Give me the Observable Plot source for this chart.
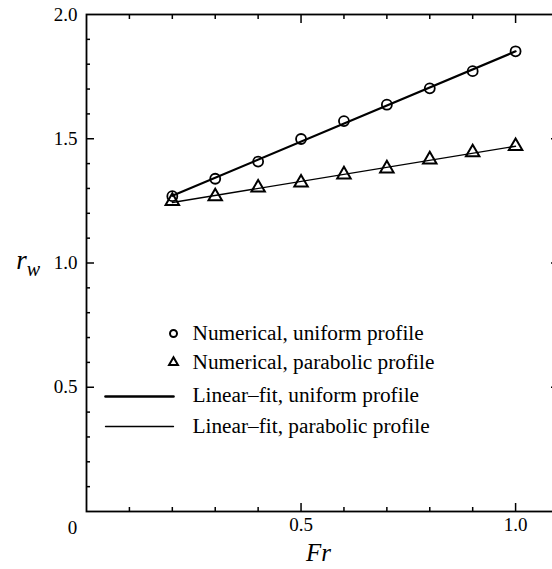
<!DOCTYPE html>
<html><head><meta charset="utf-8">
<script src="https://cdn.jsdelivr.net/npm/d3@7"></script>
<script src="https://cdn.jsdelivr.net/npm/@observablehq/plot@0.6"></script>
<style>html,body{margin:0;padding:0;background:#fff;overflow:hidden}
svg text{font-family:"Liberation Serif","Times New Roman",serif !important;}</style>
</head><body><div id="chart"></div>
<script>
// Data
const fr = [0.2, 0.3, 0.4, 0.5, 0.6, 0.7, 0.8, 0.9, 1.0];
const uniform = [1.269, 1.339, 1.408, 1.499, 1.571, 1.637, 1.703, 1.772, 1.852];
const parabolic = [1.249, 1.268, 1.303, 1.323, 1.356, 1.380, 1.416, 1.445, 1.470];

const xMajorTicks = [0.5, 1.0];
const xMinorTicks = [0.1, 0.2, 0.3, 0.4, 0.6, 0.7, 0.8, 0.9];
const yMajorTicks = [0.5, 1.0, 1.5];
const yMinorTicks = [0.1, 0.2, 0.3, 0.4, 0.6, 0.7, 0.8, 0.9, 1.1, 1.2, 1.3, 1.4, 1.6, 1.7, 1.8, 1.9];
const xTickLabels = [0.5, 1.0];
const yTickLabels = [0.5, 1.0, 1.5, 2.0];
const originLabel = ["0"];
const legendLabels = [
  "Numerical, uniform profile",
  "Numerical, parabolic profile",
  "Linear\u2013fit, uniform profile",
  "Linear\u2013fit, parabolic profile"
];

const uniformData = fr.map((x, i) => ({fr: x, rw: uniform[i]}));
const parabolicData = fr.map((x, i) => ({fr: x, rw: parabolic[i]}));

const FONT = '"Liberation Serif", "Times New Roman", serif';
const lineShape = {draw(ctx, l) { ctx.moveTo(0, 0); ctx.lineTo(0, -l); }};
const noText = () => "";

const tickAxes = [];
for (const anchor of ["bottom", "top"]) {
  tickAxes.push(Plot.axisX({anchor, ticks: xMinorTicks, tickSize: -4, tickFormat: noText, strokeWidth: 1.5, label: null}));
  tickAxes.push(Plot.axisX({anchor, ticks: xMajorTicks, tickSize: -8, tickFormat: noText, strokeWidth: 1.5, label: null}));
}
for (const anchor of ["left", "right"]) {
  tickAxes.push(Plot.axisY({anchor, ticks: yMinorTicks, tickSize: -4, tickFormat: noText, strokeWidth: 1.5, label: null}));
  tickAxes.push(Plot.axisY({anchor, ticks: yMajorTicks, tickSize: -8, tickFormat: noText, strokeWidth: 1.5, label: null}));
}

const legendRowsDy = [319, 348, 381, 412];
const legendTexts = legendLabels.map((lab, i) =>
  Plot.text([lab], {frameAnchor: "top-left", text: d => d, dx: 106, dy: legendRowsDy[i], textAnchor: "start", lineAnchor: "middle", fontSize: 21.3, fontFamily: FONT})
);

const chart = Plot.plot({
  width: 552,
  height: 569,
  marginLeft: 86,
  marginRight: -6,
  marginTop: 14,
  marginBottom: 58,
  style: {fontFamily: FONT, color: "black", background: "white", overflow: "hidden"},
  x: {domain: [0, 1.1], label: null},
  y: {domain: [0, 2], label: null},
  marks: [
    ...tickAxes,
    Plot.axisY({anchor: "left", ticks: yTickLabels, tickSize: 0, tickPadding: 9, tickFormat: d => d.toFixed(1), fontSize: 19, fontFamily: FONT, label: null}),
    Plot.axisX({anchor: "bottom", ticks: xTickLabels, tickSize: 0, tickPadding: 6, tickFormat: d => d.toFixed(1), fontSize: 19, fontFamily: FONT, label: null}),
    Plot.text(originLabel, {frameAnchor: "bottom-left", text: d => d, dx: -14, dy: 16, textAnchor: "middle", lineAnchor: "middle", fontSize: 19, fontFamily: FONT}),
    Plot.frame({stroke: "black", strokeWidth: 1.8}),
    // data
    Plot.linearRegressionY(uniformData, {x: "fr", y: "rw", ci: 0, stroke: "black", strokeWidth: 2.2}),
    Plot.linearRegressionY(parabolicData, {x: "fr", y: "rw", ci: 0, stroke: "black", strokeWidth: 1.3}),
    Plot.dot(uniformData, {x: "fr", y: "rw", r: 5, symbol: "circle", stroke: "black", strokeWidth: 1.8, fill: "none"}),
    Plot.dot(parabolicData, {x: "fr", y: "rw", r: 5, symbol: "triangle", stroke: "black", strokeWidth: 2, fill: "none"}),
    // axis titles
    Plot.text(["r"], {frameAnchor: "left", text: d => d, dx: -65, dy: -3, textAnchor: "middle", lineAnchor: "middle", fontSize: 27, fontStyle: "italic", fontFamily: FONT}),
    Plot.text(["w"], {frameAnchor: "left", text: d => d, dx: -53, dy: 7, textAnchor: "middle", lineAnchor: "middle", fontSize: 20, fontStyle: "italic", fontFamily: FONT}),
    Plot.text(["Fr"], {frameAnchor: "bottom", text: d => d, dx: -4, dy: 41, textAnchor: "middle", lineAnchor: "middle", fontSize: 25, fontStyle: "italic", fontFamily: FONT}),
    // legend
    Plot.dot([0], {frameAnchor: "top-left", dx: 87, dy: 319, r: 3.5, symbol: "circle", stroke: "black", strokeWidth: 2, fill: "none"}),
    Plot.dot([0], {frameAnchor: "top-left", dx: 87, dy: 348, r: 3.3, symbol: "triangle", stroke: "black", strokeWidth: 2, fill: "none"}),
    Plot.vector([0], {frameAnchor: "top-left", dx: 19, dy: 382, length: 68, rotate: 90, anchor: "start", shape: lineShape, stroke: "black", strokeWidth: 2.6}),
    Plot.vector([0], {frameAnchor: "top-left", dx: 19, dy: 412, length: 68, rotate: 90, anchor: "start", shape: lineShape, stroke: "black", strokeWidth: 1.3}),
    ...legendTexts
  ]
});
document.getElementById("chart").appendChild(chart);
</script>
</body></html>
